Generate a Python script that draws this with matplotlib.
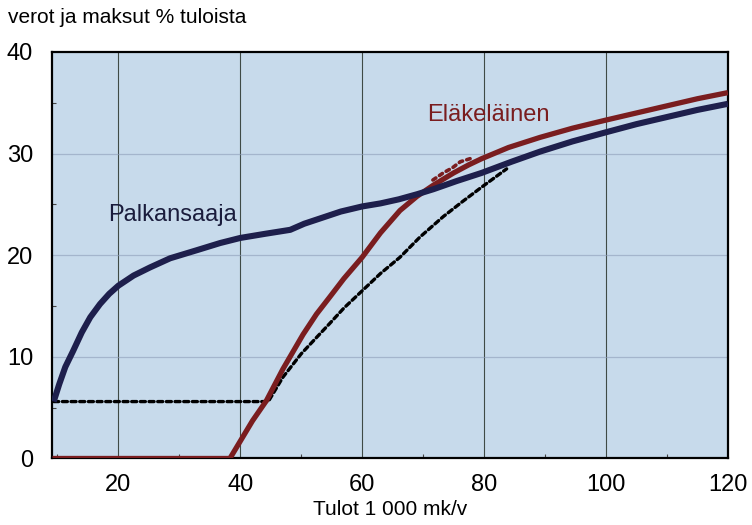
import matplotlib
matplotlib.use("Agg")
import matplotlib.pyplot as plt
from matplotlib.ticker import MultipleLocator

plt.rcParams['font.family'] = ['Liberation Sans', 'DejaVu Sans']

# Palkansaaja (wage earner)
palk_x = [9.4, 10.3, 11.3, 12.6, 14.0, 15.4, 17.0, 18.5, 20.0, 22.5, 25.2, 28.5, 32.9, 36.7, 40.0, 44.0,
          48.2, 50.5, 53.0, 56.5, 60.0, 63.0, 66.0, 69.0, 71.7, 75.5, 79.6, 84.5, 89.2, 94.5,
          100.0, 105.0, 110.0, 115.0, 120.0]
palk_y = [5.6, 7.3, 9.0, 10.6, 12.4, 13.9, 15.2, 16.2, 17.0, 18.0, 18.8, 19.7, 20.5, 21.2, 21.7, 22.1,
          22.5, 23.1, 23.6, 24.3, 24.8, 25.1, 25.5, 26.0, 26.5, 27.3, 28.1, 29.2, 30.2, 31.2,
          32.1, 32.9, 33.6, 34.3, 34.9]

# Eläkeläinen (pensioner)
elak_x = [9.2, 38.3, 40.0, 42.0, 44.3, 47.0, 50.3, 52.5, 54.7, 57.0, 60.0, 63.0, 66.2, 69.0,
          71.7, 75.0, 77.5, 79.6, 84.0, 89.2, 94.5, 100.0, 105.0, 110.0, 115.0, 120.0]
elak_y = [0.0, 0.0, 1.7, 3.7, 5.7, 8.8, 12.2, 14.2, 15.9, 17.7, 19.8, 22.2, 24.4, 25.8,
          26.9, 28.1, 28.9, 29.5, 30.6, 31.6, 32.5, 33.3, 34.0, 34.7, 35.4, 36.0]

# red dotted segment
elak_dot_x = [71.6, 73.3, 74.8, 76.1, 77.7]
elak_dot_y = [27.4, 28.1, 28.6, 29.2, 29.5]

# black dotted line
dot_x = [9.4, 44.6, 47.0, 50.0, 52.5, 54.7, 57.0, 60.0, 63.0, 66.2, 69.5, 73.3, 76.5, 79.6, 83.7]
dot_y = [5.6, 5.6, 8.0, 10.3, 11.9, 13.3, 14.8, 16.5, 18.2, 19.8, 21.8, 23.8, 25.3, 26.7, 28.5]

x_ticks = [20, 40, 60, 80, 100, 120]
y_ticks = [0, 10, 20, 30, 40]

navy = '#1e1f4c'
red = '#7a1d1f'
bg = '#c7daeb'

fig = plt.figure(figsize=(7.52, 5.25), dpi=100)
ax = fig.add_axes([0.0698, 0.1267, 0.968 - 0.0698, 0.901 - 0.1267])
ax.set_facecolor(bg)
ax.set_xlim(9.2, 120)
ax.set_ylim(0, 40)

for xv in x_ticks[:-1]:
    ax.axvline(xv, color='#3f4a46', lw=0.8, zorder=1)
for yv in y_ticks[1:-1]:
    ax.axhline(yv, color='#8e9db8', lw=0.9, alpha=0.6, zorder=1)

ax.plot(dot_x, dot_y, color='black', lw=2.4, linestyle=(0, (1.5, 1.1)),
        dash_capstyle='round', solid_joinstyle='round', zorder=3)
ax.plot(elak_x, elak_y, color=red, lw=3.8, solid_joinstyle='round', solid_capstyle='butt', zorder=4)
ax.plot(elak_dot_x, elak_dot_y, color=red, lw=2.6, linestyle=(0, (1.0, 1.2)),
        dash_capstyle='round', zorder=4)
ax.plot(palk_x, palk_y, color=navy, lw=4.4, solid_joinstyle='round', solid_capstyle='butt', zorder=5)

ax.text(18.3, 24.0, 'Palkansaaja', color='#1a1c3c', fontsize=17, va='center', ha='left', zorder=6)
ax.text(70.6, 33.8, 'Eläkeläinen', color=red, fontsize=17, va='center', ha='left', zorder=6)

ax.set_xticks(x_ticks)
ax.set_yticks(y_ticks)
ax.xaxis.set_minor_locator(MultipleLocator(10))
ax.yaxis.set_minor_locator(MultipleLocator(5))
ax.tick_params(which='major', length=0, labelsize=17, pad=11)
ax.tick_params(which='minor', direction='in', length=3, width=0.8, color='#444444')
ax.tick_params(axis='y', which='major', pad=14)

for s in ax.spines.values():
    s.set_linewidth(1.6)
    s.set_color('black')

ax.set_xlabel('Tulot 1 000 mk/v', fontsize=15, labelpad=3)
fig.text(0.0106, 0.966, 'verot ja maksut % tuloista', fontsize=15, ha='left', va='center')

fig.savefig('out.png', dpi=100)
